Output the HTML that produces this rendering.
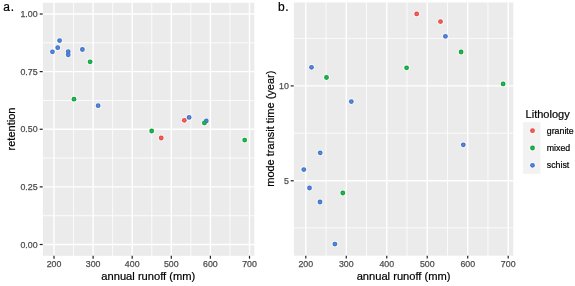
<!DOCTYPE html>
<html><head><meta charset="utf-8"><title>figure</title>
<style>html,body{margin:0;padding:0;background:#fff}svg{display:block}text{font-family:"Liberation Sans",Arial,sans-serif}</style></head><body>
<svg width="575" height="286" viewBox="0 0 575 286">
<rect width="575" height="286" fill="#fff"/>
<rect x="42.9" y="2.8" width="211.4" height="253.0" fill="#ebebeb"/>
<line x1="73.55" x2="73.55" y1="2.8" y2="255.8" stroke="#fff" stroke-width="0.8"/>
<line x1="112.65" x2="112.65" y1="2.8" y2="255.8" stroke="#fff" stroke-width="0.8"/>
<line x1="151.75" x2="151.75" y1="2.8" y2="255.8" stroke="#fff" stroke-width="0.8"/>
<line x1="190.85" x2="190.85" y1="2.8" y2="255.8" stroke="#fff" stroke-width="0.8"/>
<line x1="229.95" x2="229.95" y1="2.8" y2="255.8" stroke="#fff" stroke-width="0.8"/>
<line y1="215.69" y2="215.69" x1="42.9" x2="254.3" stroke="#fff" stroke-width="0.8"/>
<line y1="158.06" y2="158.06" x1="42.9" x2="254.3" stroke="#fff" stroke-width="0.8"/>
<line y1="100.44" y2="100.44" x1="42.9" x2="254.3" stroke="#fff" stroke-width="0.8"/>
<line y1="42.81" y2="42.81" x1="42.9" x2="254.3" stroke="#fff" stroke-width="0.8"/>
<line x1="54.00" x2="54.00" y1="2.8" y2="255.8" stroke="#fff" stroke-width="1.4"/>
<line x1="93.10" x2="93.10" y1="2.8" y2="255.8" stroke="#fff" stroke-width="1.4"/>
<line x1="132.20" x2="132.20" y1="2.8" y2="255.8" stroke="#fff" stroke-width="1.4"/>
<line x1="171.30" x2="171.30" y1="2.8" y2="255.8" stroke="#fff" stroke-width="1.4"/>
<line x1="210.40" x2="210.40" y1="2.8" y2="255.8" stroke="#fff" stroke-width="1.4"/>
<line x1="249.50" x2="249.50" y1="2.8" y2="255.8" stroke="#fff" stroke-width="1.4"/>
<line y1="244.50" y2="244.50" x1="42.9" x2="254.3" stroke="#fff" stroke-width="1.4"/>
<line y1="186.88" y2="186.88" x1="42.9" x2="254.3" stroke="#fff" stroke-width="1.4"/>
<line y1="129.25" y2="129.25" x1="42.9" x2="254.3" stroke="#fff" stroke-width="1.4"/>
<line y1="71.62" y2="71.62" x1="42.9" x2="254.3" stroke="#fff" stroke-width="1.4"/>
<line y1="14.00" y2="14.00" x1="42.9" x2="254.3" stroke="#fff" stroke-width="1.4"/>
<rect x="293.9" y="2.5" width="219.4" height="253.2" fill="#ebebeb"/>
<line x1="326.04" x2="326.04" y1="2.5" y2="255.7" stroke="#fff" stroke-width="0.8"/>
<line x1="366.52" x2="366.52" y1="2.5" y2="255.7" stroke="#fff" stroke-width="0.8"/>
<line x1="407.00" x2="407.00" y1="2.5" y2="255.7" stroke="#fff" stroke-width="0.8"/>
<line x1="447.48" x2="447.48" y1="2.5" y2="255.7" stroke="#fff" stroke-width="0.8"/>
<line x1="487.96" x2="487.96" y1="2.5" y2="255.7" stroke="#fff" stroke-width="0.8"/>
<line y1="227.80" y2="227.80" x1="293.9" x2="513.3" stroke="#fff" stroke-width="0.8"/>
<line y1="133.20" y2="133.20" x1="293.9" x2="513.3" stroke="#fff" stroke-width="0.8"/>
<line y1="38.40" y2="38.40" x1="293.9" x2="513.3" stroke="#fff" stroke-width="0.8"/>
<line x1="305.80" x2="305.80" y1="2.5" y2="255.7" stroke="#fff" stroke-width="1.4"/>
<line x1="346.28" x2="346.28" y1="2.5" y2="255.7" stroke="#fff" stroke-width="1.4"/>
<line x1="386.76" x2="386.76" y1="2.5" y2="255.7" stroke="#fff" stroke-width="1.4"/>
<line x1="427.24" x2="427.24" y1="2.5" y2="255.7" stroke="#fff" stroke-width="1.4"/>
<line x1="467.72" x2="467.72" y1="2.5" y2="255.7" stroke="#fff" stroke-width="1.4"/>
<line x1="508.20" x2="508.20" y1="2.5" y2="255.7" stroke="#fff" stroke-width="1.4"/>
<line y1="180.80" y2="180.80" x1="293.9" x2="513.3" stroke="#fff" stroke-width="1.4"/>
<line y1="85.90" y2="85.90" x1="293.9" x2="513.3" stroke="#fff" stroke-width="1.4"/>
<circle cx="52.4" cy="51.8" r="3.3" fill="#fff" fill-opacity="0.6"/>
<circle cx="57.7" cy="47.7" r="3.3" fill="#fff" fill-opacity="0.6"/>
<circle cx="59.6" cy="40.6" r="3.3" fill="#fff" fill-opacity="0.6"/>
<circle cx="68.2" cy="51.7" r="3.3" fill="#fff" fill-opacity="0.6"/>
<circle cx="68.2" cy="54.8" r="3.3" fill="#fff" fill-opacity="0.6"/>
<circle cx="82.4" cy="49.5" r="3.3" fill="#fff" fill-opacity="0.6"/>
<circle cx="98.1" cy="105.7" r="3.3" fill="#fff" fill-opacity="0.6"/>
<circle cx="189.1" cy="117.4" r="3.3" fill="#fff" fill-opacity="0.6"/>
<circle cx="206.3" cy="121.0" r="3.3" fill="#fff" fill-opacity="0.6"/>
<circle cx="161.2" cy="138.0" r="3.3" fill="#fff" fill-opacity="0.6"/>
<circle cx="184.3" cy="120.3" r="3.3" fill="#fff" fill-opacity="0.6"/>
<circle cx="90.1" cy="61.8" r="3.3" fill="#fff" fill-opacity="0.6"/>
<circle cx="74.0" cy="99.2" r="3.3" fill="#fff" fill-opacity="0.6"/>
<circle cx="151.7" cy="131.0" r="3.3" fill="#fff" fill-opacity="0.6"/>
<circle cx="204.4" cy="122.9" r="3.3" fill="#fff" fill-opacity="0.6"/>
<circle cx="244.7" cy="140.1" r="3.3" fill="#fff" fill-opacity="0.6"/>
<circle cx="52.4" cy="51.8" r="2.4" fill="#4175cd"/><circle cx="52.4" cy="51.8" r="1.1" fill="#fff" fill-opacity="0.16"/>
<circle cx="57.7" cy="47.7" r="2.4" fill="#4175cd"/><circle cx="57.7" cy="47.7" r="1.1" fill="#fff" fill-opacity="0.16"/>
<circle cx="59.6" cy="40.6" r="2.4" fill="#4175cd"/><circle cx="59.6" cy="40.6" r="1.1" fill="#fff" fill-opacity="0.16"/>
<circle cx="68.2" cy="51.7" r="2.4" fill="#4175cd"/><circle cx="68.2" cy="51.7" r="1.1" fill="#fff" fill-opacity="0.16"/>
<circle cx="68.2" cy="54.8" r="2.4" fill="#4175cd"/><circle cx="68.2" cy="54.8" r="1.1" fill="#fff" fill-opacity="0.16"/>
<circle cx="82.4" cy="49.5" r="2.4" fill="#4175cd"/><circle cx="82.4" cy="49.5" r="1.1" fill="#fff" fill-opacity="0.16"/>
<circle cx="98.1" cy="105.7" r="2.4" fill="#4175cd"/><circle cx="98.1" cy="105.7" r="1.1" fill="#fff" fill-opacity="0.16"/>
<circle cx="189.1" cy="117.4" r="2.4" fill="#4175cd"/><circle cx="189.1" cy="117.4" r="1.1" fill="#fff" fill-opacity="0.16"/>
<circle cx="206.3" cy="121.0" r="2.4" fill="#4175cd"/><circle cx="206.3" cy="121.0" r="1.1" fill="#fff" fill-opacity="0.16"/>
<circle cx="161.2" cy="138.0" r="2.4" fill="#ec4a48"/><circle cx="161.2" cy="138.0" r="1.1" fill="#fff" fill-opacity="0.16"/>
<circle cx="184.3" cy="120.3" r="2.4" fill="#ec4a48"/><circle cx="184.3" cy="120.3" r="1.1" fill="#fff" fill-opacity="0.16"/>
<circle cx="90.1" cy="61.8" r="2.4" fill="#0ea540"/><circle cx="90.1" cy="61.8" r="1.1" fill="#fff" fill-opacity="0.16"/>
<circle cx="74.0" cy="99.2" r="2.4" fill="#0ea540"/><circle cx="74.0" cy="99.2" r="1.1" fill="#fff" fill-opacity="0.16"/>
<circle cx="151.7" cy="131.0" r="2.4" fill="#0ea540"/><circle cx="151.7" cy="131.0" r="1.1" fill="#fff" fill-opacity="0.16"/>
<circle cx="204.4" cy="122.9" r="2.4" fill="#0ea540"/><circle cx="204.4" cy="122.9" r="1.1" fill="#fff" fill-opacity="0.16"/>
<circle cx="244.7" cy="140.1" r="2.4" fill="#0ea540"/><circle cx="244.7" cy="140.1" r="1.1" fill="#fff" fill-opacity="0.16"/>
<circle cx="303.8" cy="169.6" r="3.3" fill="#fff" fill-opacity="0.6"/>
<circle cx="309.5" cy="188.0" r="3.3" fill="#fff" fill-opacity="0.6"/>
<circle cx="311.5" cy="67.3" r="3.3" fill="#fff" fill-opacity="0.6"/>
<circle cx="320.2" cy="152.8" r="3.3" fill="#fff" fill-opacity="0.6"/>
<circle cx="320.0" cy="202.0" r="3.3" fill="#fff" fill-opacity="0.6"/>
<circle cx="334.9" cy="244.1" r="3.3" fill="#fff" fill-opacity="0.6"/>
<circle cx="351.3" cy="101.6" r="3.3" fill="#fff" fill-opacity="0.6"/>
<circle cx="445.4" cy="36.3" r="3.3" fill="#fff" fill-opacity="0.6"/>
<circle cx="463.3" cy="144.8" r="3.3" fill="#fff" fill-opacity="0.6"/>
<circle cx="416.7" cy="13.9" r="3.3" fill="#fff" fill-opacity="0.6"/>
<circle cx="440.5" cy="21.6" r="3.3" fill="#fff" fill-opacity="0.6"/>
<circle cx="326.5" cy="77.5" r="3.3" fill="#fff" fill-opacity="0.6"/>
<circle cx="342.8" cy="193.0" r="3.3" fill="#fff" fill-opacity="0.6"/>
<circle cx="406.6" cy="67.8" r="3.3" fill="#fff" fill-opacity="0.6"/>
<circle cx="461.1" cy="52.0" r="3.3" fill="#fff" fill-opacity="0.6"/>
<circle cx="503.1" cy="83.9" r="3.3" fill="#fff" fill-opacity="0.6"/>
<circle cx="303.8" cy="169.6" r="2.4" fill="#4175cd"/><circle cx="303.8" cy="169.6" r="1.1" fill="#fff" fill-opacity="0.16"/>
<circle cx="309.5" cy="188.0" r="2.4" fill="#4175cd"/><circle cx="309.5" cy="188.0" r="1.1" fill="#fff" fill-opacity="0.16"/>
<circle cx="311.5" cy="67.3" r="2.4" fill="#4175cd"/><circle cx="311.5" cy="67.3" r="1.1" fill="#fff" fill-opacity="0.16"/>
<circle cx="320.2" cy="152.8" r="2.4" fill="#4175cd"/><circle cx="320.2" cy="152.8" r="1.1" fill="#fff" fill-opacity="0.16"/>
<circle cx="320.0" cy="202.0" r="2.4" fill="#4175cd"/><circle cx="320.0" cy="202.0" r="1.1" fill="#fff" fill-opacity="0.16"/>
<circle cx="334.9" cy="244.1" r="2.4" fill="#4175cd"/><circle cx="334.9" cy="244.1" r="1.1" fill="#fff" fill-opacity="0.16"/>
<circle cx="351.3" cy="101.6" r="2.4" fill="#4175cd"/><circle cx="351.3" cy="101.6" r="1.1" fill="#fff" fill-opacity="0.16"/>
<circle cx="445.4" cy="36.3" r="2.4" fill="#4175cd"/><circle cx="445.4" cy="36.3" r="1.1" fill="#fff" fill-opacity="0.16"/>
<circle cx="463.3" cy="144.8" r="2.4" fill="#4175cd"/><circle cx="463.3" cy="144.8" r="1.1" fill="#fff" fill-opacity="0.16"/>
<circle cx="416.7" cy="13.9" r="2.4" fill="#ec4a48"/><circle cx="416.7" cy="13.9" r="1.1" fill="#fff" fill-opacity="0.16"/>
<circle cx="440.5" cy="21.6" r="2.4" fill="#ec4a48"/><circle cx="440.5" cy="21.6" r="1.1" fill="#fff" fill-opacity="0.16"/>
<circle cx="326.5" cy="77.5" r="2.4" fill="#0ea540"/><circle cx="326.5" cy="77.5" r="1.1" fill="#fff" fill-opacity="0.16"/>
<circle cx="342.8" cy="193.0" r="2.4" fill="#0ea540"/><circle cx="342.8" cy="193.0" r="1.1" fill="#fff" fill-opacity="0.16"/>
<circle cx="406.6" cy="67.8" r="2.4" fill="#0ea540"/><circle cx="406.6" cy="67.8" r="1.1" fill="#fff" fill-opacity="0.16"/>
<circle cx="461.1" cy="52.0" r="2.4" fill="#0ea540"/><circle cx="461.1" cy="52.0" r="1.1" fill="#fff" fill-opacity="0.16"/>
<circle cx="503.1" cy="83.9" r="2.4" fill="#0ea540"/><circle cx="503.1" cy="83.9" r="1.1" fill="#fff" fill-opacity="0.16"/>
<line x1="54.00" x2="54.00" y1="255.8" y2="258.7" stroke="#222" stroke-width="1.2"/>
<line x1="305.80" x2="305.80" y1="255.7" y2="258.6" stroke="#222" stroke-width="1.2"/>
<text x="54.00" y="267.0" font-size="8.8" fill="#4d4d4d" stroke="#4d4d4d" stroke-width="0.25" text-anchor="middle">200</text>
<text x="305.80" y="267.0" font-size="8.8" fill="#4d4d4d" stroke="#4d4d4d" stroke-width="0.25" text-anchor="middle">200</text>
<line x1="93.10" x2="93.10" y1="255.8" y2="258.7" stroke="#222" stroke-width="1.2"/>
<line x1="346.28" x2="346.28" y1="255.7" y2="258.6" stroke="#222" stroke-width="1.2"/>
<text x="93.10" y="267.0" font-size="8.8" fill="#4d4d4d" stroke="#4d4d4d" stroke-width="0.25" text-anchor="middle">300</text>
<text x="346.28" y="267.0" font-size="8.8" fill="#4d4d4d" stroke="#4d4d4d" stroke-width="0.25" text-anchor="middle">300</text>
<line x1="132.20" x2="132.20" y1="255.8" y2="258.7" stroke="#222" stroke-width="1.2"/>
<line x1="386.76" x2="386.76" y1="255.7" y2="258.6" stroke="#222" stroke-width="1.2"/>
<text x="132.20" y="267.0" font-size="8.8" fill="#4d4d4d" stroke="#4d4d4d" stroke-width="0.25" text-anchor="middle">400</text>
<text x="386.76" y="267.0" font-size="8.8" fill="#4d4d4d" stroke="#4d4d4d" stroke-width="0.25" text-anchor="middle">400</text>
<line x1="171.30" x2="171.30" y1="255.8" y2="258.7" stroke="#222" stroke-width="1.2"/>
<line x1="427.24" x2="427.24" y1="255.7" y2="258.6" stroke="#222" stroke-width="1.2"/>
<text x="171.30" y="267.0" font-size="8.8" fill="#4d4d4d" stroke="#4d4d4d" stroke-width="0.25" text-anchor="middle">500</text>
<text x="427.24" y="267.0" font-size="8.8" fill="#4d4d4d" stroke="#4d4d4d" stroke-width="0.25" text-anchor="middle">500</text>
<line x1="210.40" x2="210.40" y1="255.8" y2="258.7" stroke="#222" stroke-width="1.2"/>
<line x1="467.72" x2="467.72" y1="255.7" y2="258.6" stroke="#222" stroke-width="1.2"/>
<text x="210.40" y="267.0" font-size="8.8" fill="#4d4d4d" stroke="#4d4d4d" stroke-width="0.25" text-anchor="middle">600</text>
<text x="467.72" y="267.0" font-size="8.8" fill="#4d4d4d" stroke="#4d4d4d" stroke-width="0.25" text-anchor="middle">600</text>
<line x1="249.50" x2="249.50" y1="255.8" y2="258.7" stroke="#222" stroke-width="1.2"/>
<line x1="508.20" x2="508.20" y1="255.7" y2="258.6" stroke="#222" stroke-width="1.2"/>
<text x="249.50" y="267.0" font-size="8.8" fill="#4d4d4d" stroke="#4d4d4d" stroke-width="0.25" text-anchor="middle">700</text>
<text x="508.20" y="267.0" font-size="8.8" fill="#4d4d4d" stroke="#4d4d4d" stroke-width="0.25" text-anchor="middle">700</text>
<line y1="244.50" y2="244.50" x1="39.7" x2="42.7" stroke="#222" stroke-width="1.2"/>
<text x="37.6" y="247.65" font-size="8.8" fill="#4d4d4d" stroke="#4d4d4d" stroke-width="0.25" text-anchor="end">0.00</text>
<line y1="186.88" y2="186.88" x1="39.7" x2="42.7" stroke="#222" stroke-width="1.2"/>
<text x="37.6" y="190.03" font-size="8.8" fill="#4d4d4d" stroke="#4d4d4d" stroke-width="0.25" text-anchor="end">0.25</text>
<line y1="129.25" y2="129.25" x1="39.7" x2="42.7" stroke="#222" stroke-width="1.2"/>
<text x="37.6" y="132.40" font-size="8.8" fill="#4d4d4d" stroke="#4d4d4d" stroke-width="0.25" text-anchor="end">0.50</text>
<line y1="71.62" y2="71.62" x1="39.7" x2="42.7" stroke="#222" stroke-width="1.2"/>
<text x="37.6" y="74.78" font-size="8.8" fill="#4d4d4d" stroke="#4d4d4d" stroke-width="0.25" text-anchor="end">0.75</text>
<line y1="14.00" y2="14.00" x1="39.7" x2="42.7" stroke="#222" stroke-width="1.2"/>
<text x="37.6" y="17.15" font-size="8.8" fill="#4d4d4d" stroke="#4d4d4d" stroke-width="0.25" text-anchor="end">1.00</text>
<line y1="180.80" y2="180.80" x1="290.7" x2="293.7" stroke="#222" stroke-width="1.2"/>
<text x="288.8" y="183.95" font-size="8.8" fill="#4d4d4d" stroke="#4d4d4d" stroke-width="0.25" text-anchor="end">5</text>
<line y1="85.90" y2="85.90" x1="290.7" x2="293.7" stroke="#222" stroke-width="1.2"/>
<text x="288.8" y="89.05" font-size="8.8" fill="#4d4d4d" stroke="#4d4d4d" stroke-width="0.25" text-anchor="end">10</text>
<text x="148.3" y="280.2" font-size="11.15" fill="#000" stroke="#000" stroke-width="0.2" text-anchor="middle">annual runoff (mm)</text>
<text x="403.6" y="280.2" font-size="11.15" fill="#000" stroke="#000" stroke-width="0.2" text-anchor="middle">annual runoff (mm)</text>
<text transform="translate(15.1,129) rotate(-90)" font-size="11" fill="#000" stroke="#000" stroke-width="0.2" text-anchor="middle">retention</text>
<text transform="translate(273.8,128.7) rotate(-90)" font-size="11" fill="#000" stroke="#000" stroke-width="0.2" text-anchor="middle">mode transit time (year)</text>
<text x="3.3" y="10.7" font-size="12" letter-spacing="0.9" fill="#000" stroke="#000" stroke-width="0.2">a.</text>
<text x="278.0" y="10.5" font-size="12" letter-spacing="0.5" fill="#000" stroke="#000" stroke-width="0.2">b.</text>
<text x="525.6" y="117.5" font-size="11" fill="#000" stroke="#000" stroke-width="0.2">Lithology</text>
<rect x="523" y="122.2" width="17.4" height="51.6" fill="#f2f2f2"/>
<circle cx="532.5" cy="130.7" r="3.3" fill="#fff" fill-opacity="0.6"/><circle cx="532.5" cy="130.7" r="2.4" fill="#ec4a48"/><circle cx="532.5" cy="130.7" r="1.1" fill="#fff" fill-opacity="0.16"/>
<text x="546.8" y="133.8" font-size="8.8" fill="#000" stroke="#000" stroke-width="0.2">granite</text>
<circle cx="532.5" cy="148.0" r="3.3" fill="#fff" fill-opacity="0.6"/><circle cx="532.5" cy="148.0" r="2.4" fill="#0ea540"/><circle cx="532.5" cy="148.0" r="1.1" fill="#fff" fill-opacity="0.16"/>
<text x="546.8" y="151.1" font-size="8.8" fill="#000" stroke="#000" stroke-width="0.2">mixed</text>
<circle cx="532.5" cy="165.3" r="3.3" fill="#fff" fill-opacity="0.6"/><circle cx="532.5" cy="165.3" r="2.4" fill="#4175cd"/><circle cx="532.5" cy="165.3" r="1.1" fill="#fff" fill-opacity="0.16"/>
<text x="546.8" y="168.4" font-size="8.8" fill="#000" stroke="#000" stroke-width="0.2">schist</text>
</svg></body></html>
